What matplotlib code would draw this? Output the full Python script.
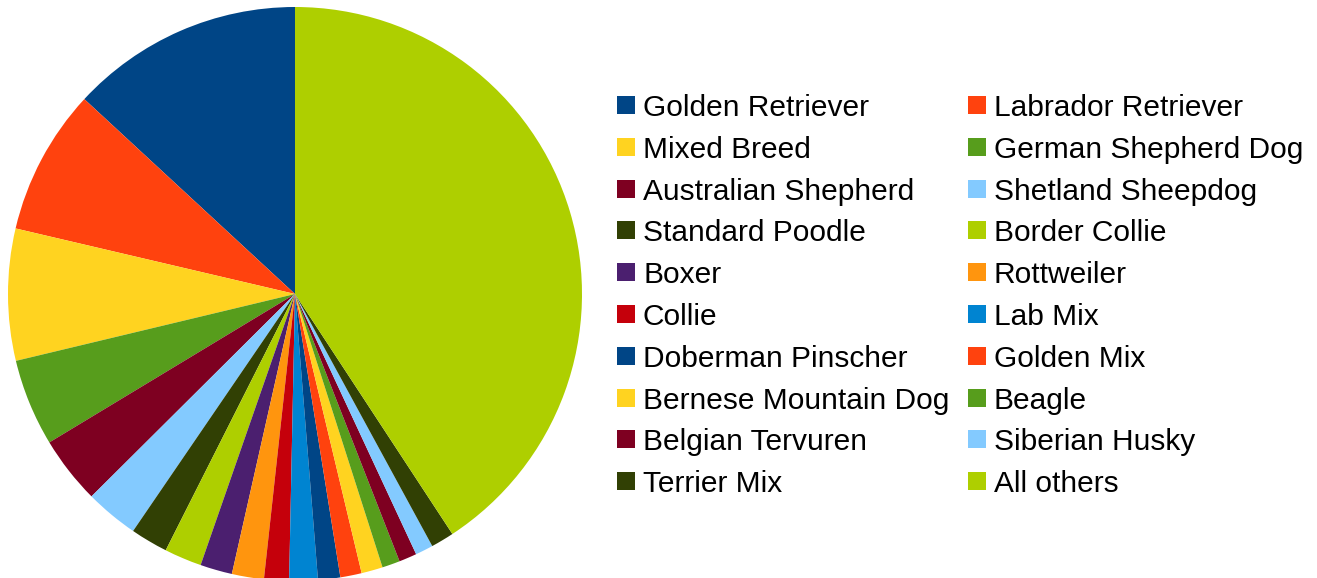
import matplotlib
matplotlib.use("Agg")
import matplotlib.pyplot as plt
from matplotlib.patches import Rectangle

breeds = ["Golden Retriever", "Labrador Retriever", "Mixed Breed", "German Shepherd Dog",
          "Australian Shepherd", "Shetland Sheepdog", "Standard Poodle", "Border Collie",
          "Boxer", "Rottweiler", "Collie", "Lab Mix", "Doberman Pinscher", "Golden Mix",
          "Bernese Mountain Dog", "Beagle", "Belgian Tervuren", "Siberian Husky",
          "Terrier Mix", "All others"]
shares = [13.1, 8.2, 7.4, 4.9, 3.8, 3.0, 2.1, 2.1, 1.8, 1.8, 1.4, 1.6, 1.25, 1.2,
          1.2, 1.0, 1.0, 1.0, 1.3, 40.7]
palette = ["#004586", "#ff420e", "#ffd320", "#579d1c", "#7e0021", "#83caff",
           "#314004", "#aecf00", "#4b1f6f", "#ff950e", "#c5000b", "#0084d1"]
colors = [palette[i % len(palette)] for i in range(len(breeds))]

plt.rcParams['font.family'] = ['Liberation Sans', 'DejaVu Sans']

W, H = 1317, 578
fig = plt.figure(figsize=(W / 100, H / 100), dpi=100)

cx, cy, r = 295, 294, 287
ax = fig.add_axes([(cx - r) / W, (H - cy - r) / H, 2 * r / W, 2 * r / H])
ax.pie(shares, colors=colors, startangle=90, counterclock=True, radius=1,
       wedgeprops=dict(linewidth=0))
ax.set_xlim(-1, 1)
ax.set_ylim(-1, 1)
ax.set_axis_off()

# legend, row-major in two columns
col_x = [617, 968]
row_y0 = 105
row_dy = 41.8
sq = 18
for i, (name, c) in enumerate(zip(breeds, colors)):
    col = i % 2
    row = i // 2
    x = col_x[col]
    y = row_y0 + row * row_dy
    fig.patches.append(Rectangle((x / W, (H - y - sq / 2) / H), sq / W, sq / H,
                                 transform=fig.transFigure, facecolor=c,
                                 edgecolor='none'))
    fig.text((x + 26) / W, (H - y) / H, name, fontsize=21.5, va='center_baseline',
             ha='left', color='black')

fig.savefig("out.png", dpi=100)
